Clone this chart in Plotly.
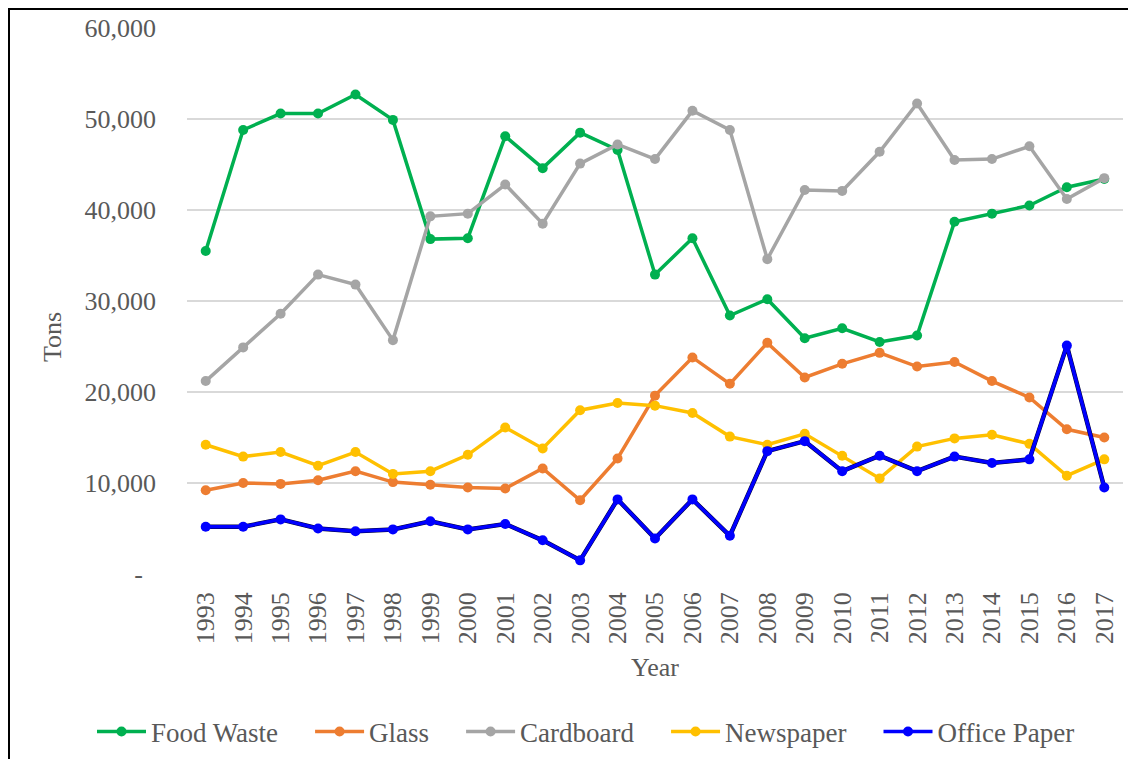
import plotly.graph_objects as go

years = [str(y) for y in range(1993, 2018)]

food_waste = [35500, 48800, 50600, 50600, 52700, 49900, 36800, 36900, 48100, 44600,
              48500, 46600, 32900, 36900, 28400, 30200, 25900, 27000, 25500, 26200,
              38700, 39600, 40500, 42500, 43400]
glass = [9200, 10000, 9900, 10300, 11300, 10100, 9800, 9500, 9400, 11600,
         8100, 12700, 19600, 23800, 20900, 25400, 21600, 23100, 24300, 22800,
         23300, 21200, 19400, 15900, 15000]
cardboard = [21200, 24900, 28600, 32900, 31800, 25700, 39300, 39600, 42800, 38500,
             45100, 47200, 45600, 50900, 48800, 34600, 42200, 42100, 46400, 51700,
             45500, 45600, 47000, 41200, 43500]
newspaper = [14200, 12900, 13400, 11900, 13400, 11000, 11300, 13100, 16100, 13800,
             18000, 18800, 18500, 17700, 15100, 14200, 15400, 13000, 10500, 14000,
             14900, 15300, 14300, 10800, 12600]
office_paper = [5200, 5200, 6000, 5000, 4700, 4900, 5800, 4900, 5500, 3700,
                1500, 8200, 3900, 8200, 4200, 13500, 14600, 11300, 13000, 11300,
                12900, 12200, 12600, 25100, 9500]

y_tickvals = [0, 10000, 20000, 30000, 40000, 50000, 60000]
y_ticktext = ["-\u00a0\u00a0", "10,000", "20,000", "30,000", "40,000", "50,000", "60,000"]

series = [
    ("Food Waste", food_waste, "#00B050"),
    ("Glass", glass, "#ED7D31"),
    ("Cardboard", cardboard, "#A5A5A5"),
    ("Newspaper", newspaper, "#FFC000"),
    ("Office Paper", office_paper, "#0000FF"),
]

FONT = "Liberation Serif, serif"
GREY = "#595959"
FS = 26
LFS = 27
PAD = "\u00a0\u00a0\u00a0\u00a0"

fig = go.Figure()
for name, vals, col in series:
    if name == "Office Paper":
        fig.add_trace(go.Scatter(x=years, y=vals, mode="lines", showlegend=False,
                                 line=dict(color="#000033", width=4.5), hoverinfo="skip"))
    fig.add_trace(go.Scatter(x=years, y=vals, name=name + PAD, mode="lines+markers",
                             line=dict(color=col, width=3.5),
                             marker=dict(color=col, size=10)))

# page body has an 8px margin: figure coordinates = reference pixel - 8
OFF = 8
W, H = 1136 - OFF, 759 - OFF
L = 187 - OFF
T = 28 - OFF
R = W - (1123 - OFF)
B = H - (574 - OFF)
pw = W - L - R
ph = H - T - B

def px_x(x):
    return (x - OFF - L) / pw

def px_y(y):
    return (H - B - (y - OFF)) / ph

fig.update_layout(
    width=W, height=H,
    margin=dict(l=L, r=R, t=T, b=B, autoexpand=False),
    paper_bgcolor="white", plot_bgcolor="white",
    font=dict(family=FONT, size=FS, color=GREY),
    showlegend=True,
    legend=dict(orientation="h", x=px_x(92), xanchor="left",
                y=px_y(732), yanchor="middle", itemwidth=49,
                font=dict(family=FONT, size=LFS, color=GREY),
                bgcolor="rgba(0,0,0,0)"),
    xaxis=dict(type="category", range=[-0.5, 24.5], tickangle=-90, showgrid=False,
               showline=False, zeroline=False, ticks="", automargin=False,
               ticklabelstandoff=12,
               tickfont=dict(family=FONT, size=FS, color=GREY)),
    yaxis=dict(range=[0, 60000], tickvals=y_tickvals, ticktext=y_ticktext,
               showgrid=True, gridcolor="#D9D9D9", gridwidth=1.5, zeroline=False,
               showline=False, ticks="", ticklabelstandoff=30, automargin=False,
               tickfont=dict(family=FONT, size=FS, color=GREY)),
    annotations=[
        dict(text="Tons", x=px_x(52), y=px_y(337), xref="paper", yref="paper",
             xanchor="center", yanchor="middle",
             textangle=-90, showarrow=False, font=dict(family=FONT, size=FS, color=GREY)),
        dict(text="Year", x=px_x(655), y=px_y(667), xref="paper", yref="paper",
             xanchor="center", yanchor="middle",
             showarrow=False, font=dict(family=FONT, size=FS, color=GREY)),
    ],
    shapes=[
        dict(type="rect", xref="paper", yref="paper",
             x0=px_x(9), x1=px_x(1160), y0=px_y(780), y1=px_y(9),
             line=dict(color="black", width=2), fillcolor="rgba(0,0,0,0)", layer="below"),
    ],
)

fig.write_html("out.html")
